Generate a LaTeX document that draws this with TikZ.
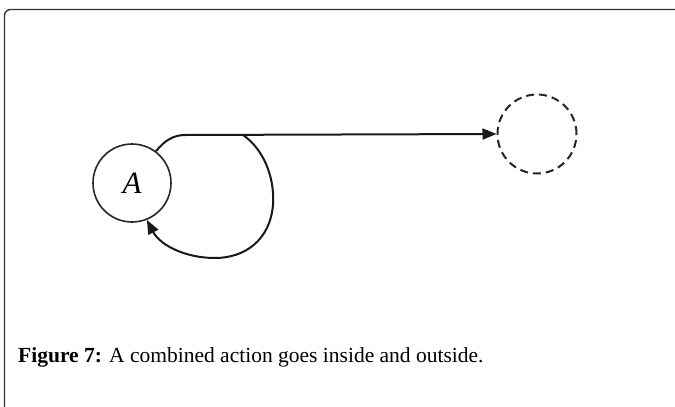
\documentclass[tikz,border=0pt]{standalone}
\usepackage{fontspec}
\setmainfont{Liberation Serif}
\usetikzlibrary{arrows.meta}
\tikzset{
  state/.style={circle, draw=black!85, line width=1.6pt, minimum size=78pt, inner sep=0pt},
  ghost/.style={circle, draw=black!85, line width=2pt, dash pattern=on 8pt off 5pt, minimum size=79pt, inner sep=0pt},
  conn/.style={line width=2pt, draw=black!90, -{Triangle[length=14pt,width=11pt]}},
  frameline/.style={line width=1.4pt, draw=black!80, rounded corners=6pt}
}
\begin{document}
\begin{tikzpicture}[x=1pt,y=-1pt]
\useasboundingbox (0,0) rectangle (675,407);
\draw[frameline] (4.5,420) -- (4.5,9.5) -- (690,9.5);
\node[state] (A) at (132,183) {\fontsize{31}{34}\selectfont\itshape A};
\node[ghost] (B) at (537,134) {};
\coordinate (split) at (243,135);
\draw[conn] (A.53) .. controls (165,140) and (174,135) .. (185,135) -- (B.west);
\draw[conn] (split) .. controls (262,148) and (275,175) .. (273,205)
  .. controls (270,240) and (245,258) .. (215,258)
  .. controls (185,258) and (160,245) .. (A.-68);
\node[anchor=base west, inner sep=0pt] (cap) at (18,362) {\fontsize{21.5}{24}\selectfont\textbf{Figure 7:} A combined action goes inside and outside.};
\end{tikzpicture}
\end{document}
